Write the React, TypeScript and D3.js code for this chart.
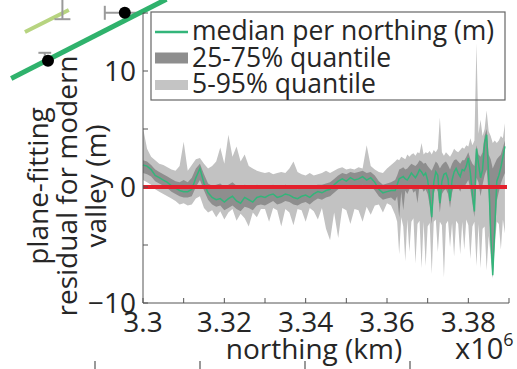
import * as d3 from "d3";

// northing samples (axis units, x10^6); denser sampling where the data gets spiky
const northing = [
  3.300, 3.301, 3.302, 3.303, 3.304, 3.305, 3.306, 3.307, 3.308, 3.309,
  3.310, 3.311, 3.312, 3.313, 3.314, 3.315, 3.316, 3.317, 3.318, 3.319,
  3.320, 3.321, 3.322, 3.323, 3.324, 3.325, 3.326, 3.327, 3.328, 3.329,
  3.330, 3.331, 3.332, 3.333, 3.334, 3.335, 3.336, 3.337, 3.338, 3.339,
  3.340, 3.341, 3.342, 3.343, 3.344, 3.345, 3.346, 3.347, 3.348, 3.349,
  3.350, 3.351, 3.352, 3.353, 3.354, 3.355, 3.356, 3.357, 3.358, 3.359,
  3.360, 3.361,
  3.3620, 3.3625, 3.3630, 3.3635, 3.3640, 3.3645, 3.3650, 3.3655, 3.3660, 3.3665,
  3.3670, 3.3675, 3.3680, 3.3685, 3.3690, 3.3695, 3.3700, 3.3705, 3.3710, 3.3715,
  3.3720, 3.3725, 3.3730, 3.3735, 3.3740, 3.3745, 3.3750, 3.3755, 3.3760, 3.3765,
  3.3770, 3.3775, 3.3780, 3.3785, 3.3790, 3.3795, 3.3800, 3.3805, 3.3810, 3.3815,
  3.3820, 3.3825, 3.3830, 3.3835, 3.3840, 3.3845, 3.3850, 3.3855, 3.3860, 3.3865,
  3.3870, 3.3875, 3.3880, 3.3885, 3.3890,
];

const median = [
  1.9, 1.8, 1.5, 1.0, 0.8, 0.6, 0.4, 0.1, -0.1, -0.3,
  -0.4, -0.4, -0.2, 0.8, 1.6, 0.3, -0.5, -0.9, -1.1, -1.0,
  -1.3, -1.0, -0.8, -1.2, -1.4, -0.9, -1.1, -1.3, -0.9, -0.8,
  -0.9, -0.7, -0.6, -0.9, -0.8, -0.6, -0.7, -0.9, -1.0, -0.8,
  -0.7, -0.9, -0.6, -0.4, -0.5, -0.3, -0.2, 0.2, 0.5, 0.7,
  0.5, 0.8, 0.6, 0.7, 0.9, 0.6, 0.8, 0.4, -0.2, -0.5,
  -0.4, -0.3,
  -0.3, 0.2, 0.7, 0.8, 0.9, 0.7, 0.6, 0.9, 1.2, 1.0,
  0.8, 1.1, 1.5, 1.3, 1.0, 1.2, 0.6, -0.8, -2.6, 0.4,
  1.3, 1.0, -1.4, 0.5, 1.1, 1.2, 0.7, -1.2, 0.6, 1.3,
  1.6, 1.2, 0.9, 1.5, 1.4, 1.8, 2.5, 1.2, -0.6, -2.1,
  3.3, 2.0, 0.8, 1.5, 3.8, 4.5, 1.0, -4.0, -7.6, -3.5,
  0.5, 1.0, 1.7, 2.6, 3.5,
];

const q25 = [
  1.2, 1.1, 0.9, 0.5, 0.3, 0.1, -0.1, -0.4, -0.6, -0.8,
  -0.9, -0.9, -0.8, 0.0, 0.6, -0.3, -1.1, -1.5, -1.7, -1.6,
  -2.0, -1.8, -1.6, -1.9, -2.1, -1.7, -1.8, -2.0, -1.6, -1.5,
  -1.6, -1.4, -1.2, -1.5, -1.4, -1.2, -1.3, -1.5, -1.6, -1.4,
  -1.3, -1.5, -1.2, -1.0, -1.1, -0.9, -0.8, -0.5, -0.2, 0.0,
  -0.2, 0.1, -0.1, 0.0, 0.2, -0.1, 0.1, -0.3, -0.8, -1.1,
  -1.0, -0.9,
  -1.2, -0.8, -2.6, -0.4, -2.0, -0.3, -0.6, -0.2, 0.0, -0.5,
  -0.3, -1.4, 0.2, 0.0, -0.4, -0.2, -0.6, -1.6, -3.2, -0.6,
  0.0, -0.4, -2.2, -0.6, -0.3, -0.2, -0.6, -1.8, -0.5, 0.1,
  0.2, 0.0, -0.4, 0.1, 0.0, 0.3, 0.6, -0.2, -1.4, -2.6,
  0.8, 0.4, -0.8, 0.2, 1.0, 1.5, -0.6, -5.0, -7.8, -4.5,
  -1.2, -0.4, 0.3, 0.8, 1.2,
];

const q75 = [
  2.3, 2.2, 1.9, 1.5, 1.3, 1.1, 0.9, 0.7, 0.5, 0.4,
  0.6, 0.4, 0.8, 1.6, 2.0, 1.1, 0.3, 0.1, 0.2, 0.3,
  0.0, 0.2, 0.4, 0.1, 0.0, 0.2, 0.1, -0.1, 0.2, 0.1,
  0.0, 0.1, 0.2, 0.0, 0.0, 0.2, 0.1, 0.0, -0.2, 0.0,
  0.1, -0.1, 0.1, 0.2, 0.2, 0.3, 0.4, 0.7, 1.0, 1.2,
  1.1, 1.3, 1.2, 1.3, 1.4, 1.2, 1.3, 1.0, 0.5, 0.2,
  0.3, 0.4,
  0.6, 1.0, 1.5, 1.6, 1.7, 1.5, 1.6, 1.8, 2.0, 1.9,
  1.8, 2.0, 2.3, 2.2, 2.0, 2.1, 1.8, 1.6, 1.4, 1.8,
  2.2, 2.0, 1.6, 1.9, 2.1, 2.2, 1.9, 1.5, 2.0, 2.3,
  2.4, 2.2, 2.0, 2.3, 2.3, 2.6, 3.0, 2.4, 2.0, 1.8,
  3.6, 2.8, 2.6, 3.0, 4.4, 5.0, 2.8, 2.4, 1.6, 2.0,
  2.4, 2.6, 2.8, 3.4, 4.0,
];

const q05 = [
  0.6, 0.4, 0.2, -0.2, -0.4, -0.6, -0.8, -1.0, -1.2, -1.5,
  -1.4, -1.6, -1.5, -1.0, -0.8, -1.8, -2.2, -2.0, -2.6, -2.1,
  -2.8, -2.2, -1.9, -2.9, -2.3, -2.7, -3.4, -2.2, -2.6, -1.9,
  -1.9, -3.0, -1.8, -2.0, -3.4, -1.9, -2.2, -3.3, -1.9, -2.0,
  -3.0, -1.8, -2.1, -2.8, -1.8, -3.6, -4.6, -2.2, -4.4, -1.8,
  -2.0, -3.2, -1.9, -2.0, -3.0, -1.7, -2.4, -1.6, -1.5, -2.2,
  -1.4, -1.6,
  -2.4, -3.0, -5.8, -2.6, -3.4, -6.4, -2.8, -5.6, -3.0, -2.7,
  -6.6, -3.2, -2.9, -7.0, -3.0, -6.8, -3.4, -3.1, -7.5, -3.0,
  -2.8, -5.6, -3.0, -3.3, -7.8, -3.2, -2.9, -5.2, -3.1, -6.0,
  -2.9, -3.2, -5.8, -3.0, -5.4, -2.8, -3.3, -6.2, -3.4, -3.0,
  -6.8, -3.2, -7.0, -3.6, -3.4, -7.2, -4.2, -6.0, -7.9, -5.2,
  -3.0, -3.2, -5.4, -2.8, -4.0,
];

const q95 = [
  5.1, 3.3, 2.6, 2.3, 2.0, 1.9, 1.7, 1.5, 1.4, 1.8,
  3.9, 1.4, 1.9, 2.4, 2.5, 2.0, 1.6, 1.8, 2.2, 3.4,
  2.0, 4.5, 2.6, 3.5, 2.2, 2.8, 1.8, 1.6, 1.4, 1.3,
  1.2, 1.3, 1.1, 1.2, 1.3, 1.2, 1.6, 2.2, 1.3, 1.1,
  1.0, 1.2, 1.0, 1.1, 1.2, 1.4, 1.2, 1.4, 1.6, 1.7,
  1.5, 1.6, 1.5, 1.7, 1.6, 3.6, 1.8, 1.5, 1.3, 1.2,
  1.6, 1.9,
  2.2, 2.4, 2.3, 2.6, 2.5, 2.4, 2.8, 2.6, 2.8, 2.9,
  2.7, 3.0, 2.9, 3.8, 2.8, 3.0, 2.9, 3.1, 2.8, 3.2,
  3.0, 3.3, 6.0, 3.0, 2.7, 3.0, 2.8, 2.6, 2.9, 3.3,
  3.1, 3.0, 3.2, 3.4, 3.3, 3.6, 3.5, 4.2, 3.6, 4.0,
  12.4, 4.6, 5.8, 4.4, 5.0, 6.6, 4.8, 4.4, 3.8, 4.0,
  3.8, 4.0, 4.4, 4.2, 5.5,
];

const xTicks = [3.30, 3.31, 3.32, 3.33, 3.34, 3.35, 3.36, 3.37, 3.38, 3.39];
const xTickLabels = ["3.3", "", "3.32", "", "3.34", "", "3.36", "", "3.38", ""];
const yTicks = [-10, -5, 0, 5, 10, 15];
const yTickLabels = ["-10", "", "0", "", "10", ""];
const yLabelLines = ["plane-fitting", "residual for modern", "valley (m)"];
const legendLabels = ["median per northing (m)", "25-75% quantile", "5-95% quantile"];

// fragments of the neighbouring panels that overlap this crop
const nbFit = [[0.7, 0.2], [10.4, 10.1]];
const nbFitLight = [[1.56, 6.0], [4.3, 8.75]];
const nbDots = [[3.0, 2.4], [7.8, 8.4]];
const nbErrTop = [[2.8, 3.4]];
const nbErrHoriz = [[6.55, 9.05, 8.4]];
const nbErrCap = [[3.9, 7.6, 10.2]];
const lowerTicks = [1, 2, 3, 4];

const W = 517;
const H = 369;
const FONT = "'Open Sans', 'DejaVu Sans', sans-serif";
const TXT = "#262626";
const AX = "#555";
const GREEN = "#33b57a";

const App = () => {
  const x = d3.scaleLinear().domain([3.30, 3.39]).range([143, 509]);
  const y = d3.scaleLinear().domain([-10, 15]).range([303, 13]);
  const nbX = d3.scaleLinear().domain([0, 10]).range([0, 160]);
  const nbY = d3.scaleLinear().domain([0, 10]).range([80, 0]);
  const lowX = d3.scaleLinear().domain([0, 4]).range([-10, 410]);

  const idx = d3.range(northing.length);
  const band = (lo: number[], hi: number[]) =>
    d3.area<number>()
      .x((i) => x(northing[i]))
      .y0((i) => y(lo[i]))
      .y1((i) => y(hi[i]))(idx) as string;
  const medLine = d3.line<number>()
    .x((i) => x(northing[i]))
    .y((i) => y(median[i]))(idx) as string;
  const seg = d3.line<number[]>().x((d) => nbX(d[0])).y((d) => nbY(d[1]));

  const [x0, x1] = x.domain();
  const legendRowY = (i: number) => 32 + i * 26.5;

  return (
    <svg
      width={W}
      height={H}
      style={{ position: "absolute", left: 0, top: 0, background: "#fff" }}
      fontFamily={FONT}
    >
      <rect width={W} height={H} fill="#fff" />

      {/* neighbour panel fragments, top left */}
      <path d={seg(nbFitLight) as string} stroke="#b7d480" strokeWidth={4} fill="none" />
      {nbErrCap.map(([cx, ya, yb], k) => (
        <g key={"c" + k} stroke="#9a9a9a" strokeWidth={2}>
          <line x1={nbX(cx)} x2={nbX(cx)} y1={nbY(ya)} y2={nbY(yb)} />
          <line x1={nbX(cx - 0.5)} x2={nbX(cx + 0.5)} y1={nbY(ya)} y2={nbY(ya)} />
        </g>
      ))}
      {nbErrHoriz.map(([xa, xb, yy], k) => (
        <g key={"h" + k} stroke="#9a9a9a" strokeWidth={2}>
          <line x1={nbX(xa)} x2={nbX(xb)} y1={nbY(yy)} y2={nbY(yy)} />
          <line x1={nbX(xa)} x2={nbX(xa)} y1={nbY(yy) - 7} y2={nbY(yy) + 7} />
        </g>
      ))}
      {nbErrTop.map(([cx, yy], k) => (
        <g key={"t" + k} stroke="#9a9a9a" strokeWidth={2}>
          <line x1={nbX(cx)} x2={nbX(cx)} y1={nbY(yy)} y2={nbY(2.4)} />
          <line x1={nbX(cx - 0.4)} x2={nbX(cx + 0.4)} y1={nbY(yy)} y2={nbY(yy)} />
        </g>
      ))}
      <path d={seg(nbFit) as string} stroke="#2fb26c" strokeWidth={5} fill="none" />
      {nbDots.map(([dx, dy], k) => (
        <circle key={"d" + k} cx={nbX(dx)} cy={nbY(dy)} r={6} fill="#000" />
      ))}

      {/* lower panel tick marks */}
      {lowerTicks.map((t) => (
        <line key={"lt" + t} x1={lowX(t)} x2={lowX(t)} y1={361} y2={369} stroke={AX} strokeWidth={1.2} />
      ))}

      {/* data */}
      <path d={band(q05, q95)} fill="#c2c2c2" />
      <path d={band(q25, q75)} fill="#8e8e8e" />
      <path d={medLine} fill="none" stroke={GREEN} strokeWidth={1.5} />
      <line x1={x(x0)} x2={x(x1) - 2} y1={y(0)} y2={y(0)} stroke="#e3202c" strokeWidth={4} />

      {/* axes */}
      <line x1={x(x0)} x2={x(x0)} y1={y(15)} y2={y(-10)} stroke={AX} strokeWidth={1} />
      <line x1={x(x0)} x2={x(x1)} y1={y(-10)} y2={y(-10)} stroke={AX} strokeWidth={1} />
      {yTicks.map((t, i) => (
        <g key={"y" + t}>
          <line x1={x(x0)} x2={x(x0) + 5} y1={y(t)} y2={y(t)} stroke={AX} />
          {yTickLabels[i] && (
            <text x={x(x0) - 7} y={y(t)} dy="0.36em" textAnchor="end" fontSize={28} fill={TXT}>
              {yTickLabels[i].replace("-", "\u2212")}
            </text>
          )}
        </g>
      ))}
      {xTicks.map((t, i) => (
        <g key={"x" + t}>
          <line x1={x(t)} x2={x(t)} y1={y(-10)} y2={y(-10) - 5} stroke={AX} />
          {xTickLabels[i] && (
            <text x={x(t)} y={332} textAnchor="middle" fontSize={28} fill={TXT}>
              {xTickLabels[i]}
            </text>
          )}
        </g>
      ))}
      <text x={314} y={359} textAnchor="middle" fontSize={28} fill={TXT}>northing (km)</text>
      <text x={455} y={359} fontSize={29} fill={TXT}>
        x10<tspan fontSize={18} dy={-13}>6</tspan>
      </text>

      {yLabelLines.map((s, i) => (
        <text
          key={s}
          transform={`translate(${48 + i * 29},${186}) rotate(-90)`}
          textAnchor="middle"
          fontSize={28}
          fill={TXT}
        >
          {s}
        </text>
      ))}

      {/* legend */}
      <rect x={151} y={12} width={354} height={88} fill="none" stroke="#666" strokeWidth={1.2} />
      <line x1={155} x2={188} y1={legendRowY(0)} y2={legendRowY(0)} stroke={GREEN} strokeWidth={2.5} />
      <rect x={155} y={legendRowY(1) - 6} width={33} height={11} fill="#8e8e8e" />
      <rect x={155} y={legendRowY(2) - 5} width={33} height={10} fill="#c4c4c4" />
      {legendLabels.map((s, i) => (
        <text key={s} x={192} y={legendRowY(i) + 8} fontSize={26.5} fill={TXT}>
          {s}
        </text>
      ))}
    </svg>
  );
};

export default App;
